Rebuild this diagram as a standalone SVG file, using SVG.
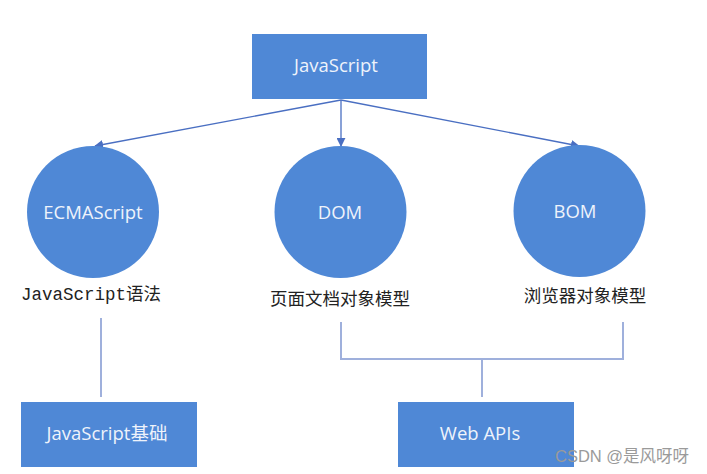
<svg xmlns="http://www.w3.org/2000/svg" width="707" height="474" viewBox="0 0 707 474">
<style>
.box{fill:#4f88d6;}
.circ{fill:#4f88d6;}
.lbl{font-family:"Open Sans","Noto Sans CJK SC",sans-serif;font-size:18.5px;fill:#eef3fb;text-anchor:middle;}
.cap{font-family:"Noto Sans CJK SC",sans-serif;font-size:17.5px;fill:#222;text-anchor:middle;}
.mono{font-family:"Liberation Mono","Noto Sans CJK SC",monospace;font-size:17.5px;fill:#222;}
.arr{stroke:#4a6fc2;stroke-width:1.3;fill:none;}
.ln{stroke:#9fb0dc;stroke-width:2;fill:none;}
.wm{font-family:"Liberation Sans","Noto Sans CJK SC",sans-serif;font-size:16.5px;fill:#9a9a9a;}
</style>
<defs>
<marker id="ah" viewBox="0 0 10 10" refX="9" refY="5" markerWidth="9" markerHeight="9" markerUnits="userSpaceOnUse" orient="auto">
<path d="M0,0 L10,5 L0,10 z" fill="#4a6fc2"/>
</marker>
</defs>
<rect width="707" height="474" fill="#ffffff"/>
<g id="connectors">
<line class="arr" x1="341" y1="100" x2="95" y2="146" marker-end="url(#ah)"/>
<line class="arr" x1="341" y1="100" x2="341" y2="146" marker-end="url(#ah)"/>
<line class="arr" x1="341" y1="100" x2="579" y2="146" marker-end="url(#ah)"/>
<line class="ln" x1="101" y1="318" x2="101" y2="397"/>
<polyline class="ln" points="341,322 341,359 623,359 623,322"/>
<line class="ln" x1="482" y1="359" x2="482" y2="397"/>
</g>
<g id="javascript">
<rect class="box" x="252" y="34" width="175" height="65"/>
<text class="lbl" x="336" y="72">JavaScript</text>
</g>
<g id="ecmascript">
<circle class="circ" cx="93" cy="212" r="66"/>
<text class="lbl" x="93" y="219">ECMAScript</text>
<text class="mono" x="21" y="300">JavaScript语法</text>
</g>
<g id="dom">
<circle class="circ" cx="340.5" cy="212" r="66"/>
<text class="lbl" x="340" y="219">DOM</text>
<text class="cap" x="340" y="305">页面文档对象模型</text>
</g>
<g id="bom">
<circle class="circ" cx="579.5" cy="211" r="66"/>
<text class="lbl" x="575" y="218">BOM</text>
<text class="cap" x="585" y="302">浏览器对象模型</text>
</g>
<g id="jsbasic">
<rect class="box" x="21" y="402" width="176" height="65"/>
<text class="lbl" x="107" y="440">JavaScript基础</text>
</g>
<g id="webapis">
<rect class="box" x="398" y="402" width="176" height="65"/>
<text class="lbl" x="480" y="440">Web APIs</text>
</g>
<text class="wm" x="555" y="462">CSDN @是风呀呀</text>
</svg>
